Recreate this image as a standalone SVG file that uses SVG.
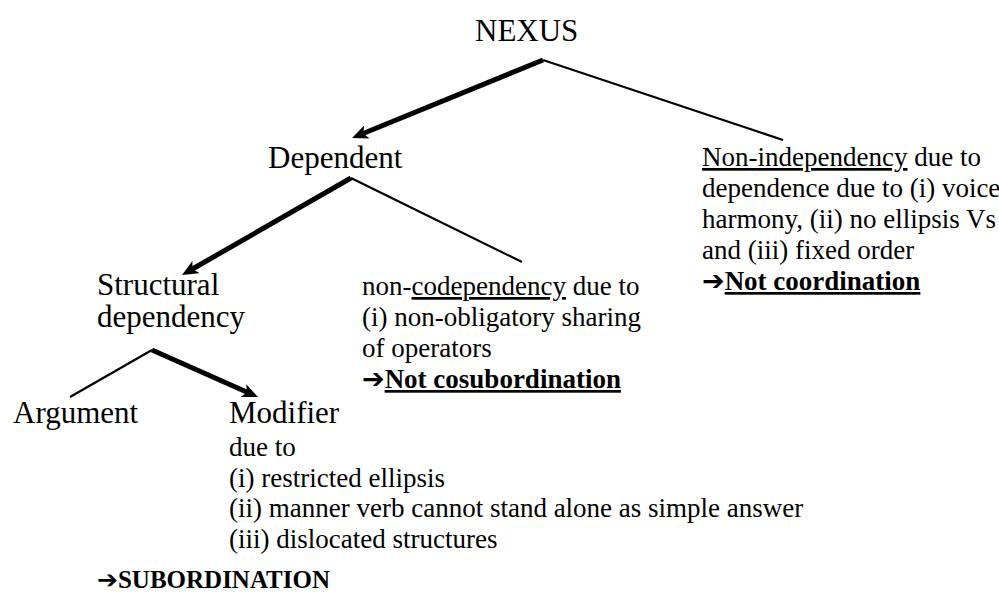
<svg xmlns="http://www.w3.org/2000/svg" width="999" height="595" viewBox="0 0 999 595">
  <style>
    text { font-family: "Liberation Serif", "Times New Roman", serif; fill: #000; }
    .node { font-size: 31px; }
    .note { font-size: 27px; }
    .b { font-weight: bold; }
    .u { text-decoration: underline; }
    .sym { font-family: "DejaVu Sans", sans-serif; font-weight: bold; }
    .thick { stroke: #000; stroke-width: 5; fill: none; marker-end: url(#head); }
    .thin { stroke: #000; stroke-width: 2.2; fill: none; }
  </style>
  <defs>
    <marker id="head" viewBox="0 0 16 14" refX="6" refY="7" markerWidth="16" markerHeight="14" markerUnits="userSpaceOnUse" orient="auto">
      <path d="M0,0 L16,7 L0,14 L4,7 z" fill="#000"/>
    </marker>
  </defs>

  <rect width="999" height="595" fill="#fff"/>

  <g id="connectors">
    <line class="thick" x1="543" y1="60" x2="361.3" y2="134.2"/>
    <line class="thin" x1="543" y1="60" x2="783" y2="140"/>
    <line class="thick" x1="351" y1="178" x2="190.7" y2="270"/>
    <line class="thin" x1="351" y1="178" x2="522" y2="262"/>
    <line class="thin" x1="152" y1="350" x2="70" y2="397"/>
    <line class="thick" x1="152" y1="350" x2="248.9" y2="393"/>
  </g>

  <g id="nexus">
    <text class="node" x="475" y="41">NEXUS</text>
  </g>

  <g id="dependent">
    <text class="node" x="268" y="168">Dependent</text>
  </g>

  <g id="non-independency">
    <text class="note" x="702" y="166"><tspan class="u">Non-independency</tspan> due to</text>
    <text class="note" x="702" y="197">dependence due to (i) voice</text>
    <text class="note" x="702" y="228">harmony, (ii) no ellipsis Vs</text>
    <text class="note" x="702" y="259">and (iii) fixed order</text>
    <text class="note" x="702" y="290"><tspan class="sym">➔</tspan><tspan class="b u">Not coordination</tspan></text>
  </g>

  <g id="structural">
    <text class="node" x="97" y="295">Structural</text>
    <text class="node" x="97" y="327">dependency</text>
  </g>

  <g id="non-codependency">
    <text class="note" x="362" y="295">non-<tspan class="u">codependency</tspan> due to</text>
    <text class="note" x="362" y="326">(i) non-obligatory sharing</text>
    <text class="note" x="362" y="357">of operators</text>
    <text class="note" x="362" y="388"><tspan class="sym">➔</tspan><tspan class="b u">Not cosubordination</tspan></text>
  </g>

  <g id="argument">
    <text class="node" x="13" y="423">Argument</text>
  </g>

  <g id="modifier">
    <text class="node" x="229" y="423">Modifier</text>
    <text class="note" x="229" y="456">due to</text>
    <text class="note" x="229" y="487">(i) restricted ellipsis</text>
    <text class="note" x="229" y="517">(ii) manner verb cannot stand alone as simple answer</text>
    <text class="note" x="229" y="548">(iii) dislocated structures</text>
  </g>

  <g id="subordination">
    <text x="97" y="588" style="font-size:25px"><tspan class="sym">➔</tspan><tspan class="b">SUBORDINATION</tspan></text>
  </g>
</svg>
